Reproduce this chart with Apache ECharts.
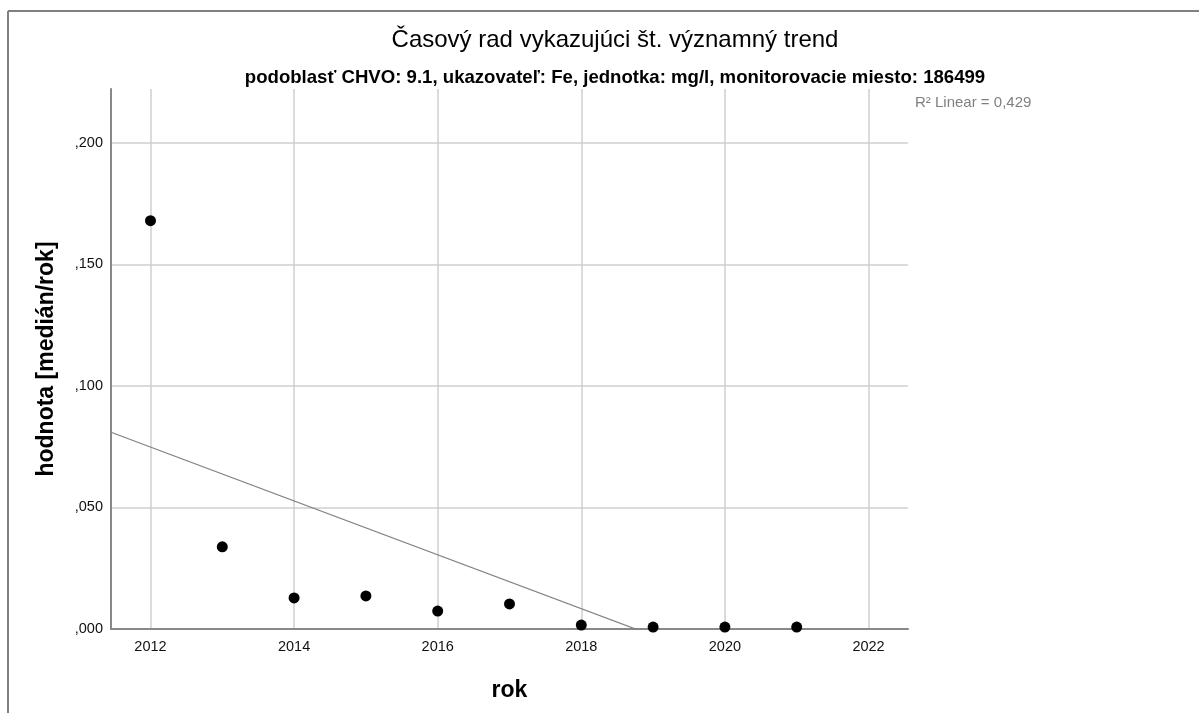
<!DOCTYPE html>
<html>
<head>
<meta charset="utf-8">
<script src="https://cdn.jsdelivr.net/npm/echarts@6/dist/echarts.min.js"></script>
<style>
  html, body { margin: 0; padding: 0; background: #fff; }
  #chart { width: 1199px; height: 713px; }
</style>
</head>
<body>
<div id="chart"></div>
<script>
// data
var years = [2012, 2013, 2014, 2015, 2016, 2017, 2018, 2019, 2020, 2021]
var medians = [0.168, 0.0338, 0.0128, 0.0136, 0.0074, 0.0103, 0.0016, 0.0008, 0.0008, 0.0008]
var xTicks = [2012, 2014, 2016, 2018, 2020, 2022]
var yTicks = [0, 0.05, 0.1, 0.15, 0.2]
var xRange = [2011.45, 2022.55]
var yRange = [0, 0.2222]

// linear fit (what SPSS draws as "R2 Linear")
function linearFit(xs, ys) {
  var n = xs.length, mx = 0, my = 0
  for (var i = 0; i < n; i++) { mx += xs[i]; my += ys[i] }
  mx /= n; my /= n
  var sxy = 0, sxx = 0
  for (var j = 0; j < n; j++) {
    sxy += (xs[j] - mx) * (ys[j] - my)
    sxx += (xs[j] - mx) * (xs[j] - mx)
  }
  var b = sxy / sxx
  return { a: my - b * mx, b: b }
}
var fit = linearFit(years, medians)
var fitLine = xRange.map(function(x) { return [x, fit.a + fit.b * x] })

var chart = echarts.init(document.getElementById('chart'))
var fontFamily = 'Arial, "Liberation Sans", sans-serif'

chart.setOption({
  animation: false,
  textStyle: { fontFamily: fontFamily },
  title: [
    {
      text: 'Časový rad vykazujúci št. významný trend',
      left: 610,
      textAlign: 'center',
      top: 23,
      textStyle: { fontSize: 24, fontWeight: 'normal', color: '#000', fontFamily: fontFamily }
    },
    {
      text: 'podoblasť CHVO: 9.1, ukazovateľ: Fe, jednotka: mg/l, monitorovacie miesto: 186499',
      left: 610,
      textAlign: 'center',
      top: 63,
      textStyle: { fontSize: 18.6, fontWeight: 'bold', color: '#000', fontFamily: fontFamily }
    }
  ],
  graphic: [
    { type: 'line', shape: { x1: 8, y1: 11, x2: 1199, y2: 11 }, style: { stroke: '#808080', lineWidth: 2 } },
    { type: 'line', shape: { x1: 8, y1: 11, x2: 8, y2: 713 }, style: { stroke: '#808080', lineWidth: 2 } },
    {
      type: 'text', left: 915, top: 95,
      style: { text: 'R² Linear = 0,429', fontSize: 15, fill: '#808080', fontFamily: fontFamily }
    }
  ],
  grid: { left: 111, top: 89, right: 291, bottom: 84 },
  xAxis: {
    type: 'value',
    min: xRange[0],
    max: xRange[1],
    name: 'rok',
    nameLocation: 'middle',
    nameGap: 50,
    nameTextStyle: { fontSize: 23, fontWeight: 'bold', color: '#000' },
    axisLine: { show: true, lineStyle: { color: '#888', width: 2 } },
    axisTick: { show: false, customValues: xTicks },
    axisLabel: {
      customValues: xTicks,
      margin: 10,
      fontSize: 14.5,
      color: '#111',
      formatter: function(v) { return String(v) }
    },
    splitLine: { show: true, lineStyle: { color: '#cfcfcf', width: 1.5 } }
  },
  yAxis: {
    type: 'value',
    min: yRange[0],
    max: yRange[1],
    name: 'hodnota [medián/rok]',
    nameLocation: 'middle',
    nameGap: 53,
    nameTextStyle: { fontSize: 23, fontWeight: 'bold', color: '#000' },
    axisLine: { show: true, lineStyle: { color: '#888', width: 2 } },
    axisTick: { show: false, customValues: yTicks },
    axisLabel: {
      customValues: yTicks,
      margin: 8,
      fontSize: 14.5,
      color: '#111',
      padding: [7, 0, 0, 0],
      formatter: function(v) { return v.toFixed(3).replace('0.', ',') }
    },
    splitLine: { show: true, lineStyle: { color: '#cfcfcf', width: 1.5 } }
  },
  series: [
    {
      type: 'line',
      data: fitLine,
      symbol: 'none',
      clip: true,
      lineStyle: { color: '#808080', width: 1.2 },
      z: 2
    },
    {
      type: 'scatter',
      data: years.map(function(y, i) { return [y, medians[i]] }),
      symbol: 'circle',
      symbolSize: 11,
      itemStyle: { color: '#000', opacity: 1 },
      z: 3
    }
  ]
})
</script>
</body>
</html>
